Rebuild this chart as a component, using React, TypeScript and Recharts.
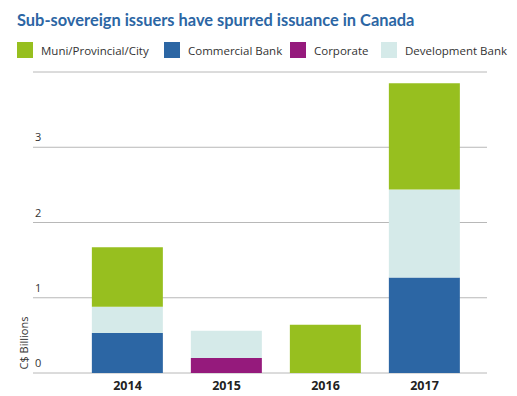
import React from 'react';
import { BarChart, Bar, XAxis, YAxis, CartesianGrid } from 'recharts';

const years = ['2014', '2015', '2016', '2017'];
const commercialBank = [0.53, 0, 0, 1.27];
const corporate = [0, 0.2, 0, 0];
const developmentBank = [0.35, 0.36, 0, 1.17];
const muniProvincialCity = [0.79, 0, 0.64, 1.41];
const yTicks = [0, 1, 2, 3];

const legendItems = [
  { name: 'Muni/Provincial/City', color: '#97bf1f' },
  { name: 'Commercial Bank', color: '#2c66a4' },
  { name: 'Corporate', color: '#951a7c' },
  { name: 'Development Bank', color: '#d5eae9' },
];
const legendX = [17, 164, 290, 381];

const data = years.map((year, i) => ({
  year,
  commercial: commercialBank[i],
  corporate: corporate[i],
  development: developmentBank[i],
  muni: muniProvincialCity[i],
}));

const renderYTick = (props: any) => {
  const { x, y, payload } = props;
  return (
    <text x={x + 2} y={y - 6} fontSize={11} fill="#333" fontFamily="'Open Sans', sans-serif" textAnchor="start">
      {payload.value}
    </text>
  );
};

export default function App() {
  return (
    <div style={{ position: 'absolute', left: 0, top: 0, width: 517, height: 396, background: '#fff' }}>
      <style>{'body{margin:0}'}</style>
      <div
        style={{
          position: 'absolute',
          left: 17,
          top: 10,
          fontFamily: 'Lato, sans-serif',
          fontWeight: 700,
          fontSize: 16.4,
          color: '#2c66a4',
          whiteSpace: 'nowrap',
        }}
      >
        Sub-sovereign issuers have spurred issuance in Canada
      </div>
      {legendItems.map((item, i) => (
        <div
          key={item.name}
          style={{ position: 'absolute', left: legendX[i], top: 42, display: 'flex', alignItems: 'center' }}
        >
          <div style={{ width: 16, height: 16, background: item.color }} />
          <span
            style={{
              marginLeft: 8,
              fontFamily: "'Open Sans', sans-serif",
              fontSize: 11.5,
              color: '#333',
              whiteSpace: 'nowrap',
            }}
          >
            {item.name}
          </span>
        </div>
      ))}
      <div
        style={{
          position: 'absolute',
          left: 23,
          top: 343,
          transform: 'translate(-50%, -50%) rotate(-90deg)',
          fontFamily: "'Open Sans', sans-serif",
          fontSize: 11,
          color: '#333',
          whiteSpace: 'nowrap',
        }}
      >
        C$ Billions
      </div>
      <div style={{ position: 'absolute', left: 0, top: 0 }}>
        <BarChart
          width={517}
          height={396}
          data={data}
          margin={{ top: 72, right: 30, bottom: 0, left: 32 }}
          barCategoryGap="14%"
        >
          <CartesianGrid vertical={false} stroke="#b8b8b8" strokeWidth={1} />
          <XAxis
            dataKey="year"
            axisLine={false}
            tickLine={false}
            height={23}
            padding={{ left: 45, right: 13 }}
            tick={{ fontSize: 12.5, fontWeight: 700, fill: '#222', fontFamily: "'Open Sans', sans-serif" }}
            tickMargin={2}
          />
          <YAxis
            domain={[0, 4]}
            ticks={yTicks}
            width={1}
            axisLine={false}
            tickLine={false}
            tickSize={0}
            tickMargin={0}
            tick={renderYTick}
          />
          <Bar dataKey="commercial" stackId="a" fill="#2c66a4" isAnimationActive={false} />
          <Bar dataKey="corporate" stackId="a" fill="#951a7c" isAnimationActive={false} />
          <Bar dataKey="development" stackId="a" fill="#d5eae9" isAnimationActive={false} />
          <Bar dataKey="muni" stackId="a" fill="#97bf1f" isAnimationActive={false} />
        </BarChart>
      </div>
    </div>
  );
}
